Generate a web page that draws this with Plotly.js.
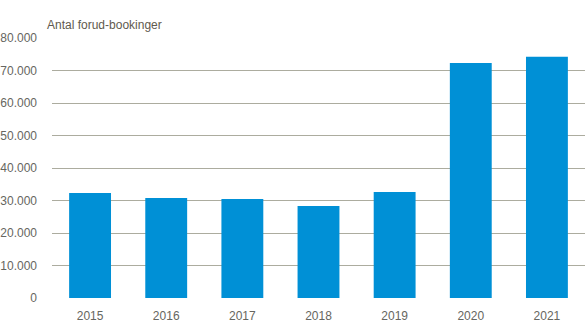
<!DOCTYPE html>
<html>
<head>
<meta charset="utf-8">
<script src="https://cdn.plot.ly/plotly-3.0.1.min.js"></script>
<style>html,body{margin:0;padding:0;background:#fff;}#chart{width:588px;height:327px;}</style>
</head>
<body>
<div id="chart"></div>
<script>
var years = ['2015', '2016', '2017', '2018', '2019', '2020', '2021'];
var bookings = [32300, 30800, 30500, 28300, 32600, 72300, 74200];
var yTicks = [0, 10000, 20000, 30000, 40000, 50000, 60000, 70000, 80000];
var titleText = 'Antal forud-bookinger';

Plotly.newPlot('chart', [{
  type: 'bar',
  x: years,
  y: bookings,
  marker: {color: '#0090d6'},
  hoverinfo: 'x+y'
}], {
  width: 588, height: 327,
  separators: ',.',
  margin: {l: 52, r: 3, t: 38, b: 29, pad: 0},
  paper_bgcolor: '#ffffff',
  plot_bgcolor: '#ffffff',
  bargap: 0.45,
  showlegend: false,
  font: {family: 'Liberation Sans, Arial, sans-serif', size: 12, color: '#666660'},
  title: {
    text: titleText,
    font: {family: 'Liberation Sans, Arial, sans-serif', size: 12, color: '#5f5a4e'},
    xref: 'container', yref: 'container',
    x: 47/588, xanchor: 'left',
    y: 1 - 25/327, yanchor: 'middle'
  },
  xaxis: {
    type: 'category',
    showgrid: false, zeroline: false, showline: false,
    ticks: '', ticklabelstandoff: 9,
    tickfont: {size: 12, color: '#666660'}
  },
  yaxis: {
    range: [0, 80000],
    tickvals: yTicks,
    tickformat: ',d',
    showgrid: true, gridcolor: '#acac9f', gridwidth: 1,
    zeroline: false, showline: false,
    ticks: '', ticklabelstandoff: 14,
    tickfont: {size: 12, color: '#666660'}
  }
}, {displayModeBar: false, staticPlot: true});
</script>
</body>
</html>
